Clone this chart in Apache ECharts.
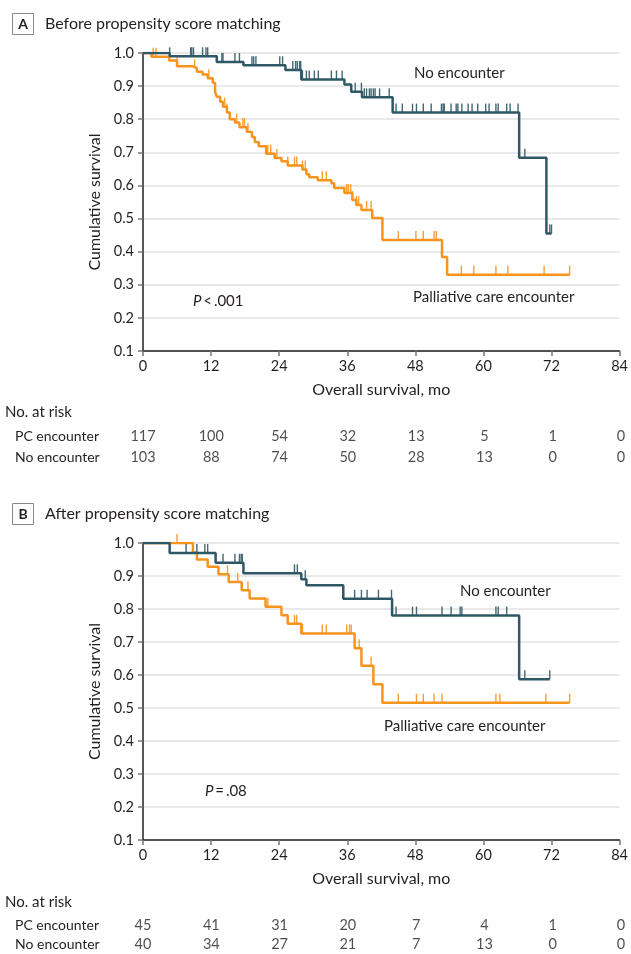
<!DOCTYPE html>
<html><head><meta charset="utf-8">
<script src="https://cdn.jsdelivr.net/npm/echarts@6/dist/echarts.min.js"></script>
<style>html,body{margin:0;padding:0;background:#fff}#c{width:631px;height:954px}</style>
</head><body><div id="c"></div>
<script>
// ---------- DATA ----------
const monthTicks = [0, 12, 24, 36, 48, 60, 72, 84];
const riskRows = ['PC encounter', 'No encounter'];

// Panel A (before matching): step curves [month, survival]
const aNoEncSteps = [[0,1.0],[4.7,0.99],[13.0,0.973],[17.7,0.963],[25.1,0.949],[27.9,0.92],[35.5,0.905],[36.7,0.883],[38.6,0.866],[44.0,0.82],[66.3,0.684],[71.1,0.455],[72.0,0.455]];
const aNoEncCensor = [4.7,8.4,8.6,8.9,10.5,11.1,11.4,13.9,14.1,16.2,17.0,19.2,19.5,19.9,24.1,24.6,26.4,26.9,27.2,27.6,27.8,28.1,28.8,29.3,30.2,30.9,33.2,34.1,35.1,37.4,38.5,39.0,39.4,39.9,40.2,40.6,40.9,41.7,43.4,44.6,45.7,47.5,48.2,49.4,50.8,52.6,52.9,53.1,54.3,55.2,55.5,56.2,57.3,58.0,59.0,60.4,61.0,62.2,62.6,64.1,64.7,66.1,67.3,71.7,72.0];
const aPCSteps = [[0,1.0],[1.5,0.989],[4.6,0.977],[6.0,0.96],[8.8,0.954],[9.5,0.943],[10.5,0.935],[11.4,0.924],[12.3,0.91],[12.7,0.883],[13.0,0.868],[13.6,0.853],[14.1,0.838],[14.8,0.82],[15.3,0.80],[16.2,0.79],[17.0,0.776],[18.3,0.762],[19.2,0.746],[19.7,0.731],[20.4,0.718],[21.7,0.696],[23.2,0.683],[24.4,0.673],[25.5,0.660],[28.1,0.648],[28.8,0.634],[29.3,0.625],[30.8,0.616],[33.2,0.607],[33.7,0.592],[35.5,0.577],[36.9,0.556],[37.6,0.541],[38.5,0.526],[40.4,0.502],[42.2,0.435],[52.7,0.384],[53.6,0.33],[75.2,0.33]];
const aPCCensor = [1.8,2.3,6.0,9.1,11.6,14.4,14.8,16.5,17.6,17.9,18.5,22.0,22.5,23.6,25.5,26.7,27.1,28.1,28.6,31.6,32.3,35.9,36.2,36.6,36.9,37.6,38.0,39.4,40.2,45.0,48.1,49.4,51.3,51.7,56.1,58.3,62.2,64.3,70.7,75.2];
const aRiskPC = [117, 100, 54, 32, 13, 5, 1, 0];
const aRiskNo = [103, 88, 74, 50, 28, 13, 0, 0];

// Panel B (after matching)
const bNoEncSteps = [[0,1.0],[4.7,0.97],[12.8,0.94],[17.7,0.908],[27.9,0.89],[28.8,0.872],[35.3,0.831],[43.9,0.78],[66.3,0.587],[71.7,0.587]];
const bNoEncCensor = [7.6,9.5,10.9,11.4,14.1,16.2,17.0,17.3,17.5,26.7,27.2,28.6,37.3,38.5,39.5,41.5,43.8,44.6,47.5,48.2,52.7,54.3,55.9,56.2,62.2,62.6,64.1,67.3,71.7];
const bPCSteps = [[0,1.0],[8.8,0.971],[9.5,0.95],[11.4,0.928],[13.3,0.905],[15.1,0.882],[17.4,0.857],[18.8,0.832],[21.6,0.807],[24.4,0.781],[25.5,0.755],[27.9,0.726],[37.3,0.681],[38.5,0.628],[40.6,0.572],[42.2,0.516],[75.2,0.516]];
const bPCCensor = [6.0,14.9,16.7,18.5,22.0,26.7,27.1,28.1,31.6,32.3,35.9,36.4,36.7,38.1,40.2,45.0,48.2,49.4,51.3,52.7,62.2,62.9,71.0,75.2];
const bRiskPC = [45, 41, 31, 20, 7, 4, 1, 0];
const bRiskNo = [40, 34, 27, 21, 7, 13, 0, 0];

// ---------- STYLE ----------
const DARK = '#2e5865';
const ORANGE = '#f7941d';
const TXT = '#231f20';
const FONT = 'Lato, "Liberation Sans", sans-serif';

function survAt(steps, t) {
  let s = steps[0][1];
  for (const p of steps) { if (p[0] <= t + 1e-9) s = p[1]; else break; }
  return s;
}
function censorData(steps, times) { return times.map(t => [t, survAt(steps, t)]); }

function plotGrid(top, height) { return { left: 143, width: 478, top: top, height: height }; }

const grids = [plotGrid(53, 298), plotGrid(425.5, 42), plotGrid(543, 297), plotGrid(916, 40)];

function plotX(gi) {
  return {
    type: 'value', gridIndex: gi, min: 0, max: 84, interval: 12,
    name: 'Overall survival, mo', nameLocation: 'middle', nameGap: 31,
    nameTextStyle: { fontFamily: FONT, fontSize: 16, color: TXT },
    axisLine: { show: true, onZero: false, lineStyle: { color: '#231f20', width: 1.5 } },
    axisTick: { show: true, length: 5, lineStyle: { color: '#777', width: 1.5 } },
    axisLabel: { fontFamily: FONT, fontSize: 14.5, color: TXT, margin: 8, formatter: v => monthTicks.includes(v) ? String(v) : '' },
    splitLine: { show: false }
  };
}
function tableX(gi) { return { type: 'value', gridIndex: gi, min: 0, max: 84, interval: 12, show: false }; }
function plotY(gi) {
  return {
    type: 'value', gridIndex: gi, min: 0.1, max: 1.0, interval: 0.1,
    name: 'Cumulative survival', nameLocation: 'middle', nameGap: 39, nameRotate: 90,
    nameTextStyle: { fontFamily: FONT, fontSize: 16, color: TXT },
    axisLine: { show: true, lineStyle: { color: '#231f20', width: 1.5 } },
    axisTick: { show: true, length: 5, lineStyle: { color: '#777', width: 1.5 } },
    axisLabel: { fontFamily: FONT, fontSize: 14.5, color: TXT, margin: 9, formatter: v => v.toFixed(1) },
    splitLine: { show: true, lineStyle: { color: '#e2e2e2', width: 1.5 } }
  };
}
function tableY(gi) {
  return {
    type: 'category', gridIndex: gi, data: riskRows, inverse: true,
    axisLine: { show: false }, axisTick: { show: false }, splitLine: { show: false },
    axisLabel: { fontFamily: FONT, fontSize: 14, color: TXT, align: 'left', margin: 128 }
  };
}

function lineSeries(ai, steps, color, z) {
  return { type: 'line', xAxisIndex: ai, yAxisIndex: ai, data: steps, step: 'end', showSymbol: false,
    lineStyle: { color: color, width: 2.5 }, itemStyle: { color: color }, z: z, silent: true };
}
function censorSeries(ai, steps, times, color, z) {
  return { type: 'scatter', xAxisIndex: ai, yAxisIndex: ai, data: censorData(steps, times),
    symbol: 'rect', symbolSize: [1.4, 9], symbolOffset: [0, -4.5], itemStyle: { color: color, opacity: 0.9 }, z: z, silent: true };
}
function riskSeries(ai, pc, no) {
  const data = [];
  monthTicks.forEach((m, i) => { data.push([m, riskRows[0], pc[i]]); data.push([m, riskRows[1], no[i]]); });
  return { type: 'scatter', xAxisIndex: ai, yAxisIndex: ai, data: data, symbolSize: 1,
    itemStyle: { color: 'rgba(0,0,0,0)' }, silent: true,
    label: { show: true, position: 'inside', fontFamily: FONT, fontSize: 14.5, color: TXT, formatter: p => String(p.value[2]) } };
}

function titleBox(y, letter, text) {
  return [
    { type: 'rect', shape: { x: 12.5, y: y - 10.5, width: 21, height: 21 }, style: { fill: '#fff', stroke: '#888', lineWidth: 1 } },
    { type: 'text', x: 23, y: y, style: { text: letter, font: 'bold 14px ' + FONT, fill: TXT, textAlign: 'center', textVerticalAlign: 'middle' } },
    { type: 'text', x: 45, y: y, style: { text: text, font: '16px ' + FONT, fill: TXT, textVerticalAlign: 'middle' } }
  ];
}
function label(x, y, text, size) {
  return { type: 'text', x: x, y: y, style: { text: text, font: (size || 15) + 'px ' + FONT, fill: TXT, textVerticalAlign: 'middle' } };
}
function pLabel(x, y, rest) {
  return { type: 'text', x: x, y: y, style: { text: '{i|P}' + rest, font: '15px ' + FONT, fill: TXT, textVerticalAlign: 'middle',
    rich: { i: { fontStyle: 'italic', fontFamily: FONT, fontSize: 15, fill: TXT } } } };
}

const option = {
  animation: false,
  backgroundColor: '#fff',
  grid: grids,
  xAxis: [plotX(0), tableX(1), plotX(2), tableX(3)],
  yAxis: [plotY(0), tableY(1), plotY(2), tableY(3)],
  series: [
    lineSeries(0, aPCSteps, ORANGE, 3), lineSeries(0, aNoEncSteps, DARK, 4),
    censorSeries(0, aPCSteps, aPCCensor, ORANGE, 3), censorSeries(0, aNoEncSteps, aNoEncCensor, DARK, 4),
    riskSeries(1, aRiskPC, aRiskNo),
    lineSeries(2, bPCSteps, ORANGE, 3), lineSeries(2, bNoEncSteps, DARK, 4),
    censorSeries(2, bPCSteps, bPCCensor, ORANGE, 3), censorSeries(2, bNoEncSteps, bNoEncCensor, DARK, 4),
    riskSeries(3, bRiskPC, bRiskNo)
  ],
  graphic: [].concat(
    titleBox(24, 'A', 'Before propensity score matching'),
    titleBox(514, 'B', 'After propensity score matching'),
    [
      label(414, 73, 'No encounter'),
      label(413, 297, 'Palliative care encounter'),
      pLabel(193, 301, '\u2009<\u2009.001'),
      label(5, 412, 'No. at risk'),
      label(460, 591, 'No encounter'),
      label(384, 726, 'Palliative care encounter'),
      pLabel(205, 791, '\u2009=\u2009.08'),
      label(5, 902, 'No. at risk')
    ]
  )
};
const chart = echarts.init(document.getElementById('c'), null, { renderer: 'canvas' });
chart.setOption(option);
</script></body></html>
